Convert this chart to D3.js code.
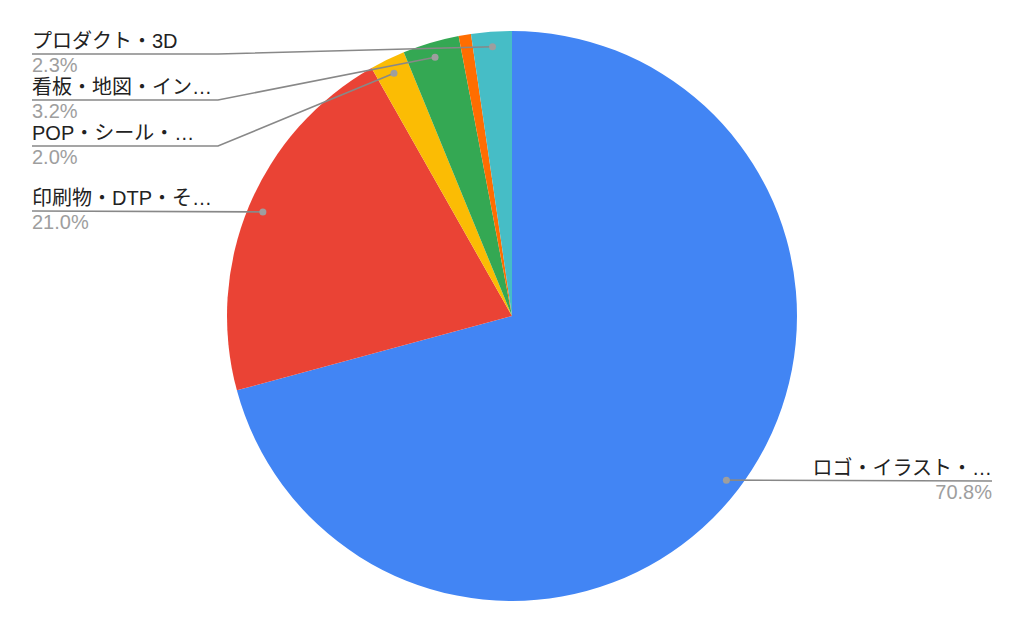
<!DOCTYPE html>
<html><head><meta charset="utf-8">
<script src="https://cdn.jsdelivr.net/npm/d3@7"></script>
<style>body{margin:0;background:#fff}svg{display:block}</style>
</head><body>
<svg id="c" width="1024" height="633"></svg>
<script>
const categories = ["ロゴ・イラスト・…","印刷物・DTP・そ…","POP・シール・…","看板・地図・イン…","その他","プロダクト・3D"];
const values = [70.8, 21.0, 2.0, 3.2, 0.7, 2.3];
const percentLabels = ["70.8%","21.0%","2.0%","3.2%","","2.3%"];
const colors = ["#4285F4","#EA4335","#FBBC04","#34A853","#FF6D01","#46BDC6"];
// label line y (null = no label)
const labelLineY = [481, 211, 146, 100, null, 54];

const svg = d3.select("#c");
const cx = 512, cy = 316, R = 285, rLab = 270;
const font = "'Liberation Sans', Arial, 'Noto Sans CJK JP', sans-serif";
const data = categories.map((c,i)=>({c, v:values[i], p:percentLabels[i], col:colors[i], ly:labelLineY[i]}));
const pie = d3.pie().value(d=>d.v).sort(null);
const arcs = pie(data);
const arc = d3.arc().innerRadius(0).outerRadius(R);
const g = svg.append("g").attr("transform",`translate(${cx},${cy})`);
g.selectAll("path").data(arcs).join("path").attr("d",arc).attr("fill",d=>d.data.col);

const labArc = d3.arc().innerRadius(rLab).outerRadius(rLab);
arcs.forEach(a=>{
  const d = a.data;
  if (d.ly == null) return;
  const [px,py] = labArc.centroid(a);
  const dx = cx+px, dy = cy+py;
  const mid = (a.startAngle+a.endAngle)/2;
  const right = mid < Math.PI;
  let pts;
  if (right) {
    pts = [[dx,dy],[992,d.ly]];
  } else if (Math.abs(dy-d.ly) < 2) {
    pts = [[32,d.ly],[dx,dy]];
  } else {
    pts = [[32,d.ly],[218,d.ly],[dx,dy]];
  }
  svg.append("path").attr("d",d3.line()(pts)).attr("fill","none")
    .attr("stroke","#888").attr("stroke-width",1.6);
  svg.append("circle").attr("cx",dx).attr("cy",dy).attr("r",3.5).attr("fill","#9e9e9e");
  const tx = right ? 992 : 32, anchor = right ? "end" : "start";
  svg.append("text").attr("x",tx).attr("y",d.ly-6).attr("text-anchor",anchor)
    .attr("font-family",font).attr("font-size",20).attr("fill","#222").text(d.c);
  svg.append("text").attr("x",tx).attr("y",d.ly+18).attr("text-anchor",anchor)
    .attr("font-family",font).attr("font-size",20).attr("fill","#9e9e9e").text(d.p);
});
</script>
</body></html>
